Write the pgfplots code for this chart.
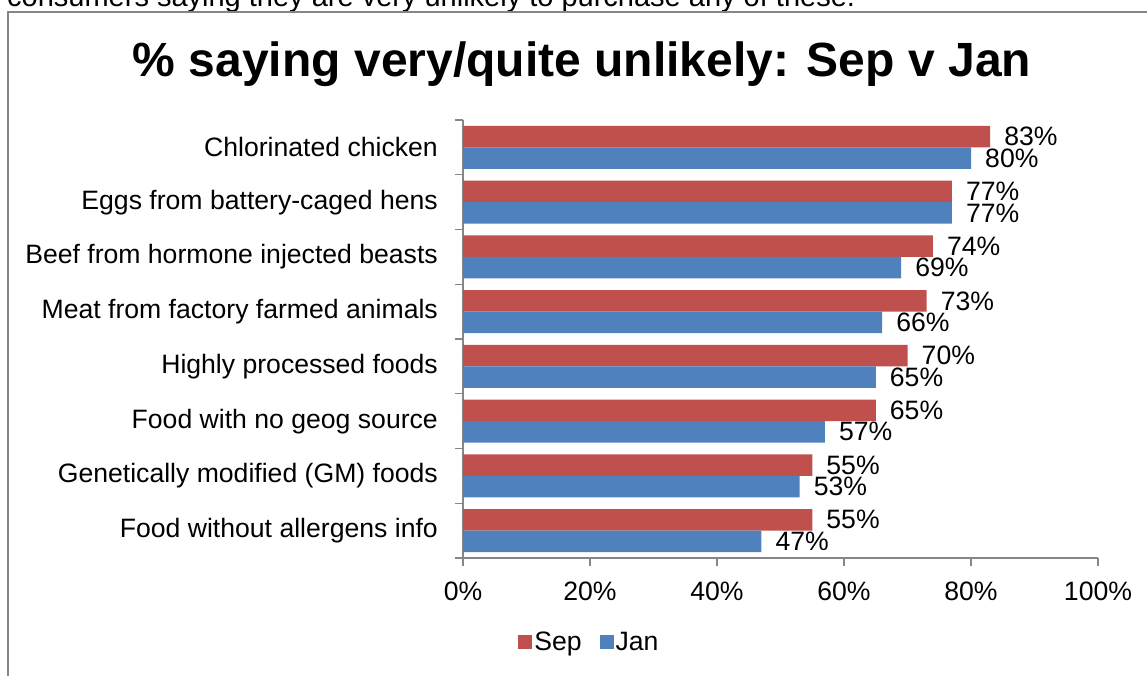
\documentclass[border=0pt]{standalone}
\usepackage{pgfplots}
\pgfplotsset{compat=1.18}
\usepackage{fontspec}
\setmainfont{Liberation Sans}

\definecolor{sepred}{HTML}{C0504D}
\definecolor{janblue}{HTML}{4F81BD}
\definecolor{axisgray}{HTML}{868686}

\newcommand{\lbl}{\fontsize{26.6}{30}\selectfont}

\begin{document}
\begin{tikzpicture}
\useasboundingbox (0pt,0pt) rectangle (1147pt,675pt);
\clip (0pt,0pt) rectangle (1147pt,675pt);

% cut-off line of text above the chart
\node[anchor=base west, inner sep=0pt, font=\fontsize{29}{34}\selectfont] at (7pt,668pt)
  {consumers saying they are very unlikely to purchase any of these.};
% chart frame
\draw[axisgray, line width=1.2pt] (8pt,-20pt) -- (8pt,663pt) -- (1170pt,663pt);

\node[anchor=base, inner sep=0pt, font=\fontsize{48}{56}\selectfont\bfseries] at (582pt,598pt)
  {\% saying very/quite unlikely: Sep v Jan};

\begin{axis}[
    at={(463pt,117pt)}, anchor=south west,
    scale only axis, width=635pt, height=438pt,
    xmin=0, xmax=100, ymin=-0.5, ymax=7.5,
    axis x line*=bottom, axis y line*=left,
    axis line style={draw=axisgray, line width=1.2pt},
    tick style={draw=axisgray, line width=1.2pt},
    tick align=outside,
    major tick length=8pt, minor tick length=8pt,
    xtick={0,20,...,100},
    xticklabels={0\%,20\%,40\%,60\%,80\%,100\%},
    ytick={0,...,7},
    yticklabels={Food without allergens info, Genetically modified (GM) foods,
      Food with no geog source, Highly processed foods,
      Meat from factory farmed animals, Beef from hormone injected beasts,
      Eggs from battery-caged hens, Chlorinated chicken\hspace{0.28em}},
    major y tick style={draw=none},
    minor ytick={-0.5,0.5,...,7.5},
    tick label style={font=\lbl, inner sep=0pt},
    yticklabel style={anchor=east, xshift=-17pt},
    xticklabel style={yshift=-16pt},
    /pgf/number format/assume math mode=true,
    point meta=x,
    nodes near coords={\pgfmathprintnumber{\pgfplotspointmeta}\%},
    every node near coord/.append style={font=\lbl, anchor=west, inner sep=0pt, xshift=14pt},
    legend style={at={(0.199,0)}, anchor=center, yshift=-84pt, draw=none, font=\lbl,
      legend columns=2, /tikz/every even column/.append style={column sep=16pt}},
    legend image code/.code={\fill[#1] (0pt,-7pt) rectangle (14pt,7pt);},
]
\addplot[xbar, bar width=21.5pt, bar shift=10.75pt, fill=sepred, draw=none,
    nodes near coords style={yshift=10.75pt}]
  coordinates {(55,0) (55,1) (65,2) (70,3) (73,4) (74,5) (77,6) (83,7)};
\addlegendentry{Sep}
\addplot[xbar, bar width=21.5pt, bar shift=-10.75pt, fill=janblue, draw=none,
    nodes near coords style={yshift=-10.75pt}]
  coordinates {(47,0) (53,1) (57,2) (65,3) (66,4) (69,5) (77,6) (80,7)};
\addlegendentry{Jan}
\end{axis}
\end{tikzpicture}
\end{document}
